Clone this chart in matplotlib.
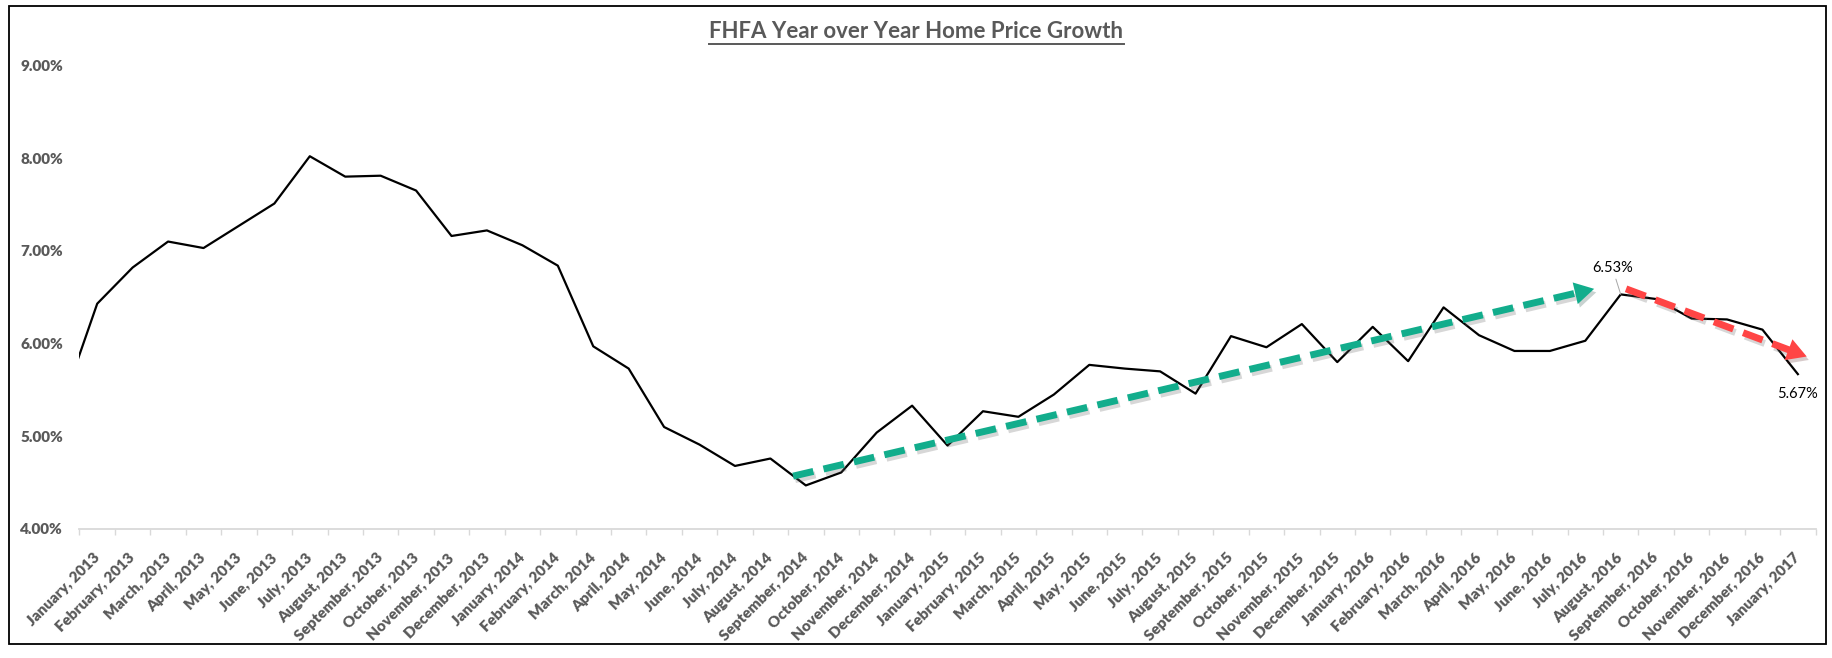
import matplotlib
matplotlib.use("Agg")
import matplotlib.pyplot as plt
import matplotlib.patheffects as pe
from matplotlib.lines import Line2D
from matplotlib.patches import Rectangle
import numpy as np

plt.rcParams["font.family"] = ["Lato", "DejaVu Sans"]

# data (percent, year over year)
month_names = ["January", "February", "March", "April", "May", "June", "July",
               "August", "September", "October", "November", "December"]
month_labels = [f"{month_names[i % 12]}, {2013 + i // 12}" for i in range(49)]

yoy_growth = [6.43, 6.82, 7.10, 7.03, 7.27, 7.51, 8.02, 7.80, 7.81, 7.65, 7.16, 7.22,  # 2013
              7.06, 6.84, 5.97, 5.73, 5.10, 4.91, 4.68, 4.76, 4.47, 4.61, 5.04, 5.33,  # 2014
              4.90, 5.27, 5.21, 5.45, 5.77, 5.73, 5.70, 5.46, 6.08, 5.96, 6.21, 5.80,  # 2015
              6.18, 5.81, 6.39, 6.09, 5.92, 5.92, 6.03, 6.53, 6.48, 6.27, 6.26, 6.15,  # 2016
              5.67]                                                                    # 2017
dec_2012_growth = 5.33   # point just left of the axis, only its clipped segment shows

labelled_points = [43, 48]   # August 2016 and January 2017

# trend arrows: (month index, percent) start -> tip
green_arrow = [(19.64, 4.57), (42.25, 6.59)]
red_arrow = [(43.15, 6.59), (48.25, 5.86)]

y_ticks = [4, 5, 6, 7, 8, 9]

grey_text = "#595959"
W, H = 1833, 658

fig = plt.figure(figsize=(W / 100, H / 100), dpi=100)
ax = fig.add_axes([79.5 / W, 1 - 529 / H, (1815.6 - 79.5) / W, (529 - 19) / H])

x = np.arange(-1, len(yoy_growth))
y = [dec_2012_growth] + yoy_growth
ax.plot(x, y, color="black", lw=1.6, zorder=3)

ax.set_xlim(-0.5, len(yoy_growth) - 0.5)
ax.set_ylim(4, 9.5)

# axes styling
for s in ["top", "right", "left"]:
    ax.spines[s].set_visible(False)
ax.spines["bottom"].set_color("#D9D9D9")
ax.spines["bottom"].set_linewidth(1.3)

ax.set_yticks(y_ticks)
ax.set_yticklabels([f"{v:.2f}%" for v in y_ticks], fontsize=11, fontweight="heavy", color=grey_text)
ax.tick_params(axis="y", length=0, pad=12)

ax.set_xticks(np.arange(len(yoy_growth)))
ax.set_xticklabels(month_labels, rotation=45, ha="right", va="center", rotation_mode="anchor",
                   fontsize=11, fontweight="heavy", color=grey_text)
ax.set_xticks(np.arange(-0.5, len(yoy_growth)), minor=True)
ax.tick_params(axis="x", which="major", length=0, pad=19)
ax.tick_params(axis="x", which="minor", length=4, width=1, color="#D9D9D9", direction="out")


def trend_arrow(start, tip, colour, head_px=19):
    """dashed shaft with a solid head, both with a soft shadow"""
    p0 = ax.transData.transform(start)
    p1 = ax.transData.transform(tip)
    d = (p1 - p0) / np.hypot(*(p1 - p0))
    base = ax.transData.inverted().transform(p1 - d * (head_px - 2))
    ax.plot([start[0], base[0]], [start[1], base[1]], color=colour, lw=5,
            linestyle=(0, (3.0, 1.5)), dash_capstyle="butt", zorder=4,
            path_effects=[pe.SimpleLineShadow(offset=(1.5, -2.5), shadow_color="#606060", alpha=0.25),
                          pe.Normal()])
    ax.annotate("", xy=tip, xytext=start, zorder=4,
                arrowprops=dict(arrowstyle="-|>,head_length=0.7,head_width=0.4",
                                color=colour, lw=0, mutation_scale=20, shrinkA=0, shrinkB=0,
                                path_effects=[pe.SimplePatchShadow(offset=(1.5, -2.5), alpha=0.22),
                                              pe.Normal()]))


trend_arrow(green_arrow[0], green_arrow[1], "#12AD8C")
trend_arrow(red_arrow[0], red_arrow[1], "#FF4545")

# data labels
peak, last = labelled_points
ax.annotate(f"{yoy_growth[peak]:.2f}%", xy=(peak, yoy_growth[peak]), xytext=(-6, 19),
            textcoords="offset points", ha="center", va="center", fontsize=10.5, color="black",
            arrowprops=dict(arrowstyle="-", color="#A6A6A6", lw=0.7, shrinkA=1, shrinkB=0))
ax.annotate(f"{yoy_growth[last]:.2f}%", xy=(last, yoy_growth[last]), xytext=(0, -14),
            textcoords="offset points", ha="center", va="center", fontsize=10.5, color="black")

# title with underline
title = fig.text(0.5, 1 - 32 / H, "FHFA Year over Year Home Price Growth", ha="center", va="center",
                 fontsize=16, fontweight="bold", color=grey_text)
fig.canvas.draw()
bb = title.get_window_extent(fig.canvas.get_renderer())
uy = (bb.y0 - 1) / H
fig.add_artist(Line2D([bb.x0 / W, bb.x1 / W], [uy, uy], transform=fig.transFigure,
                      color=grey_text, lw=1.4))

# chart border
fig.add_artist(Rectangle((9 / W, 1 - 644 / H), (1826 - 9) / W, (644 - 6) / H,
                         transform=fig.transFigure, fill=False, edgecolor="black", lw=1.3))

fig.savefig("out.png", dpi=100, facecolor="white")
